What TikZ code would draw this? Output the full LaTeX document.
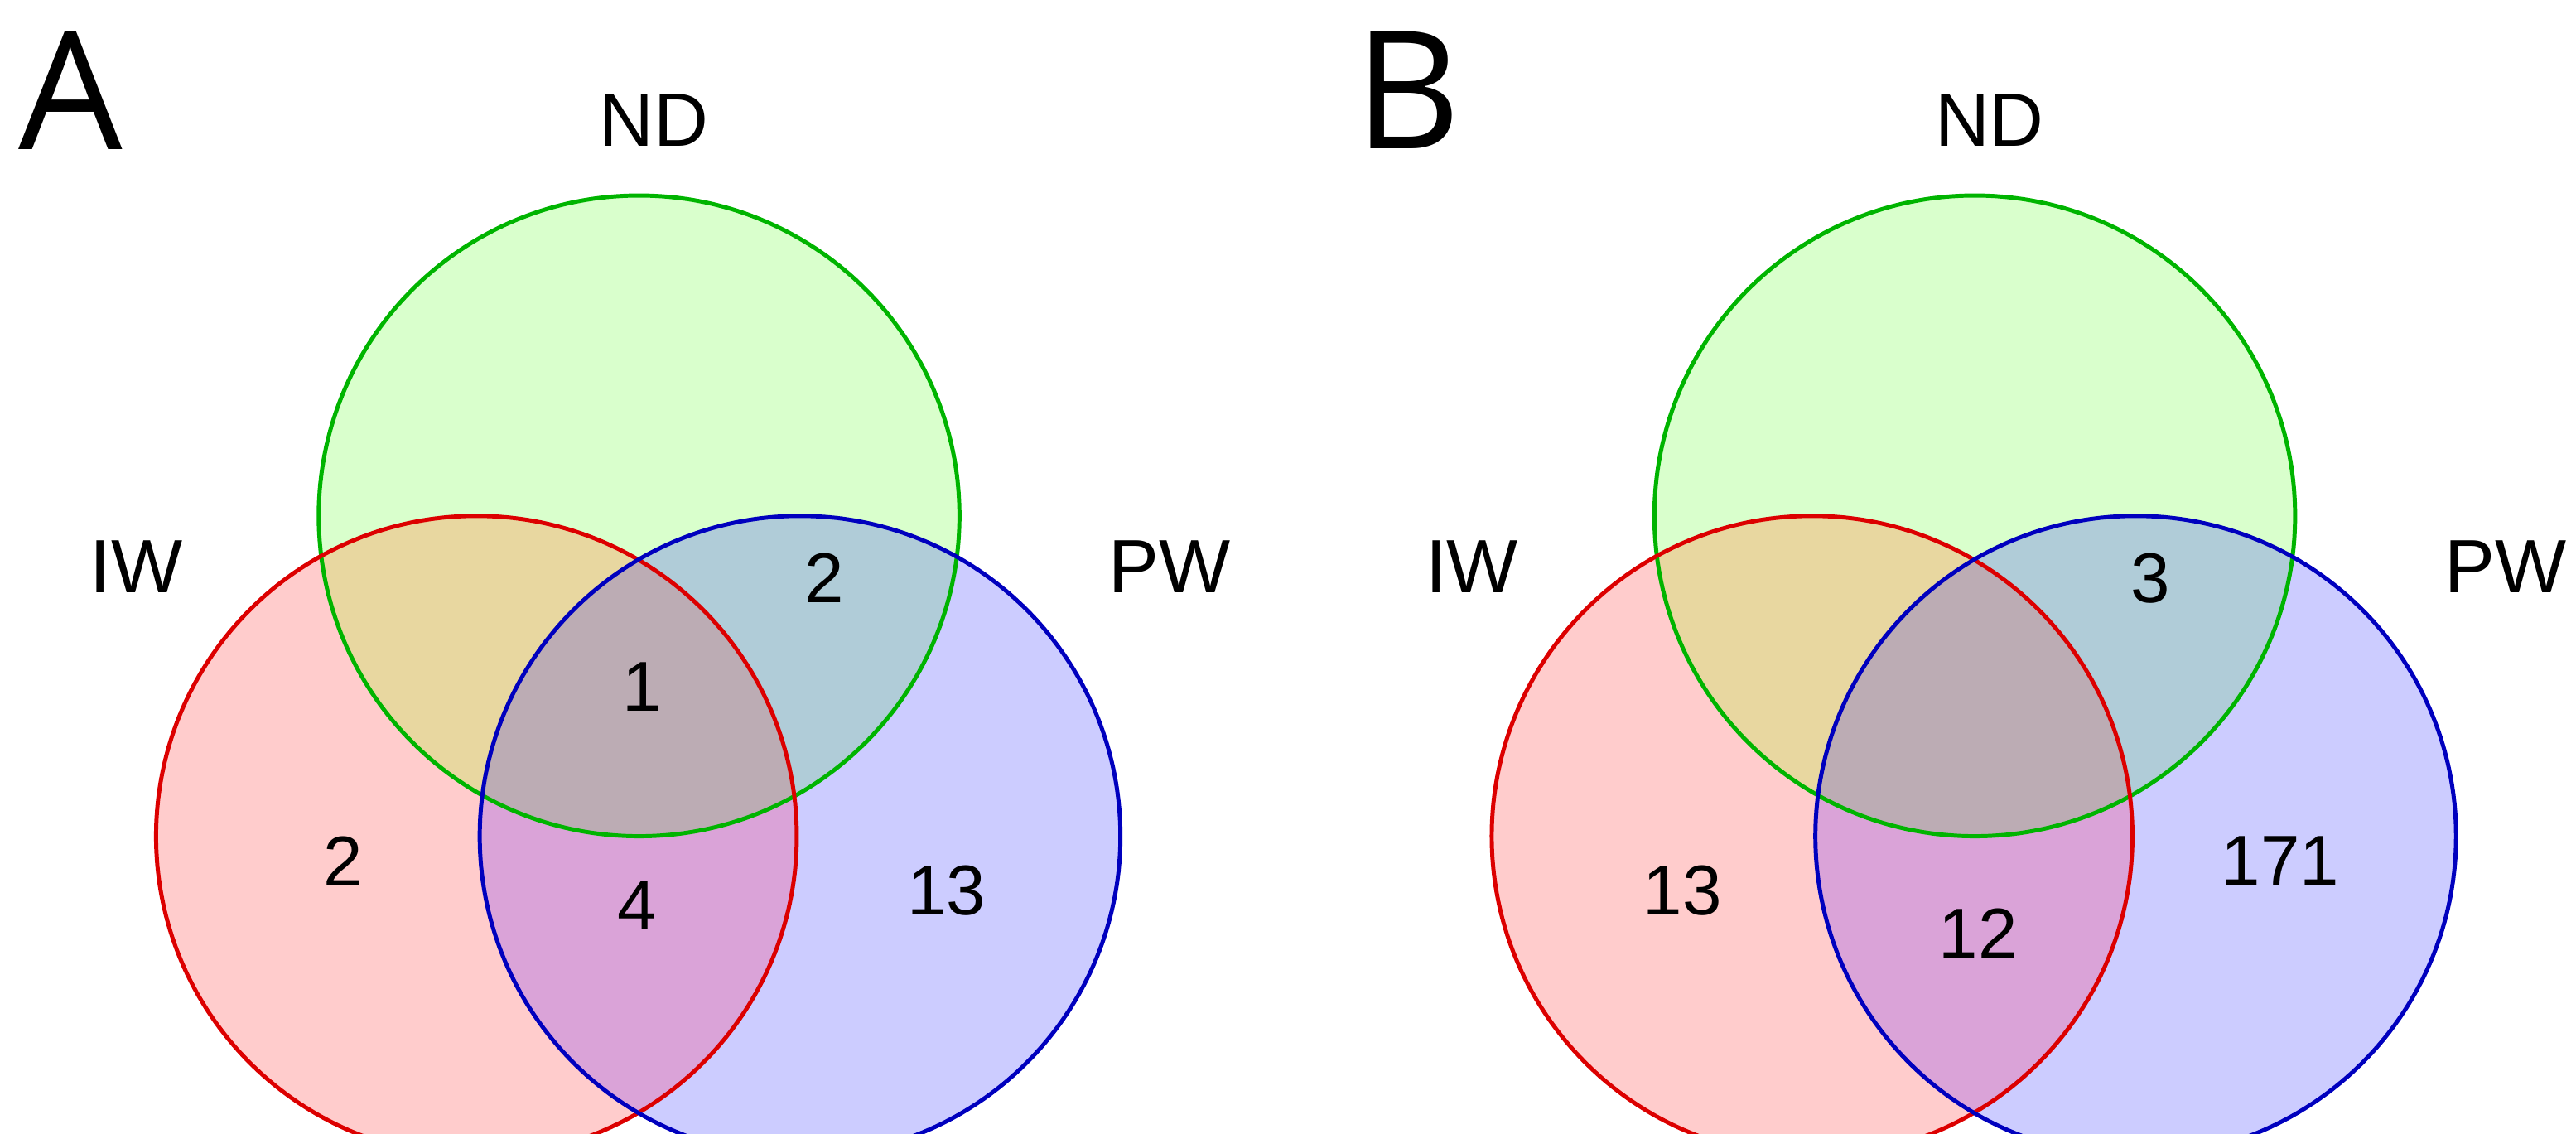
\documentclass[tikz,border=0pt]{standalone}
\usepackage{fontspec}
\setmainfont{Liberation Sans}
\newfontfamily\panelfont{Open Sans}
\definecolor{gline}{RGB}{0,180,0}
\definecolor{rline}{RGB}{220,0,0}
\definecolor{bline}{RGB}{0,0,190}
\definecolor{gf}{RGB}{217,255,204}
\definecolor{rf}{RGB}{255,204,204}
\definecolor{bf}{RGB}{204,204,255}
\definecolor{rgf}{RGB}{232,215,160}
\definecolor{gbf}{RGB}{176,204,216}
\definecolor{rbf}{RGB}{218,163,216}
\definecolor{cf}{RGB}{188,172,180}
\begin{document}
\begin{tikzpicture}[x=1pt,y=-1pt,
  lab/.style={font=\fontsize{46}{46}\selectfont},
  num/.style={font=\fontsize{43}{43}\selectfont},
  panel/.style={font=\panelfont\fontsize{100}{100}\selectfont},
  circ/.style={line width=2.5pt}]
\useasboundingbox (0,0) rectangle (1568,690);
\foreach \dx/\P in {0/A,813/B}{
  \begin{scope}[xshift=\dx pt]
  \fill[gf] (389,314) circle (195);
  \fill[rf] (290,509) circle (195);
  \fill[bf] (487,509) circle (195);
  \begin{scope}\clip (389,314) circle (195); \fill[rgf] (290,509) circle (195); \fill[gbf] (487,509) circle (195);\end{scope}
  \begin{scope}\clip (290,509) circle (195); \fill[rbf] (487,509) circle (195);
    \clip (487,509) circle (195); \fill[cf] (389,314) circle (195);\end{scope}
  \draw[circ,gline] (389,314) circle (195);
  \draw[circ,rline] (290,509) circle (195);
  \draw[circ,bline] (487,509) circle (195);
  \node[lab] (nd\P) at (398,73) {ND};
  \node[lab] (iw\P) at (83,345) {IW};
  \node[lab] (pw\P) at (712,345) {PW};
  \end{scope}
}
\node[panel] (pA) at (43,55) {A};
\node[panel] (pB) at (857,55) {B};
\node[num] (a1) at (391,418) {1};
\node[num] (a2) at (502,352) {2};
\node[num] (a3) at (209,524) {2};
\node[num] (a4) at (576,542) {13};
\node[num] (a5) at (388,551) {4};
\node[num] (b1) at (1309,352) {3};
\node[num] (b2) at (1024,542) {13};
\node[num] (b3) at (1204,568) {12};
\node[num] (b4) at (1388,524) {171};
\end{tikzpicture}
\end{document}
